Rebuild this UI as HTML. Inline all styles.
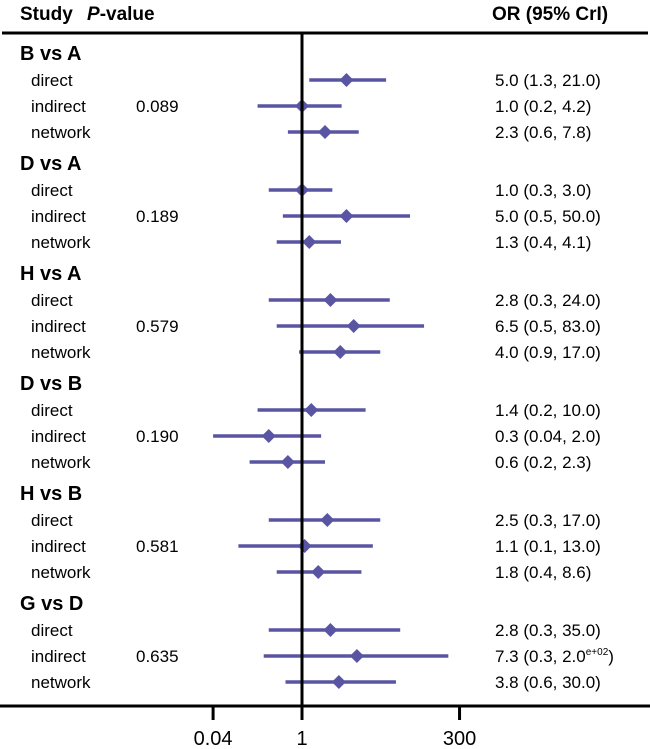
<!DOCTYPE html>
<html><head><meta charset="utf-8"><style>
body{margin:0;background:#fff}
svg{display:block;font-family:"Liberation Sans",Arial,sans-serif}
</style></head><body>
<svg id="chart" width="650" height="749" viewBox="0 0 650 749">
<text x="20" y="20" font-size="19" font-weight="bold">Study</text>
<text x="87" y="20" font-size="19" font-weight="bold"><tspan font-style="italic">P</tspan>-value</text>
<text x="492" y="20" font-size="19" font-weight="bold">OR (95% CrI)</text>
<line x1="2" y1="33" x2="648" y2="33" stroke="#000" stroke-width="3"/>
<g id="rows"></g>
<line x1="0" y1="706" x2="650" y2="706" stroke="#000" stroke-width="3"/>
<g id="ticks"></g>
</svg>
<script>
const groups=["B vs A","D vs A","H vs A","D vs B","H vs B","G vs D"];
const pvalues=["0.089","0.189","0.579","0.190","0.581","0.635"];
const rowTypes=["direct","indirect","network"];
const orVals=[[5.0,1.0,2.3],[1.0,5.0,1.3],[2.8,6.5,4.0],[1.4,0.3,0.6],[2.5,1.1,1.8],[2.8,7.3,3.8]];
const loVals=[[1.3,0.2,0.6],[0.3,0.5,0.4],[0.3,0.4,0.9],[0.2,0.04,0.15],[0.3,0.1,0.4],[0.3,0.25,0.55]];
const hiVals=[[21.0,4.2,7.8],[3.0,50.0,4.1],[24.0,83.0,17.0],[10.0,2.0,2.3],[17.0,13.0,8.6],[35.0,200,30.0]];
const labels=[["5.0 (1.3, 21.0)","1.0 (0.2, 4.2)","2.3 (0.6, 7.8)"],["1.0 (0.3, 3.0)","5.0 (0.5, 50.0)","1.3 (0.4, 4.1)"],["2.8 (0.3, 24.0)","6.5 (0.5, 83.0)","4.0 (0.9, 17.0)"],["1.4 (0.2, 10.0)","0.3 (0.04, 2.0)","0.6 (0.2, 2.3)"],["2.5 (0.3, 17.0)","1.1 (0.1, 13.0)","1.8 (0.4, 8.6)"],["2.8 (0.3, 35.0)","7.3 (0.3, 2.0<sup>","3.8 (0.6, 30.0)"]];
const tickVals=[0.04,1,300];
const tickLabels=["0.04","1","300"];
const NS="http://www.w3.org/2000/svg";
const x=v=>302+63.6*Math.log10(v);
function mk(tag,attrs,parent){const e=document.createElementNS(NS,tag);for(const k in attrs)e.setAttribute(k,attrs[k]);parent.appendChild(e);return e;}
const rows=document.getElementById('rows');
groups.forEach((g,gi)=>{
  const y0=53+gi*110;
  const h=mk('text',{x:20,y:y0+7,'font-size':20,'font-weight':'bold'},rows);h.textContent=g;
  
  
  const p=mk('text',{x:136,y:y0+53+6,'font-size':17},rows);p.textContent=pvalues[gi];
  
  
  rowTypes.forEach((t,ri)=>{
    const y=y0+27+ri*26;
    const l=mk('text',{x:31,y:y+6,'font-size':17},rows);l.textContent=t;
    
    
    const ci=mk('line',{x1:x(loVals[gi][ri]),x2:x(hiVals[gi][ri]),y1:y,y2:y,stroke:'#5a55a3','stroke-width':3.5},rows);
    
    
    const cx=x(orVals[gi][ri]);
    const d=mk('polygon',{points:`${cx-7},${y} ${cx},${y-7} ${cx+7},${y} ${cx},${y+7}`,fill:'#5a55a3'},rows);
    
    
    const tx=mk('text',{x:495,y:y+6,'font-size':17},rows);
    if(labels[gi][ri].includes('<sup>')){tx.textContent=labels[gi][ri].replace('<sup>','');const s=mk('tspan',{'font-size':10,dy:-7},tx);s.textContent='e+02';const c=mk('tspan',{'font-size':17,dy:7},tx);c.textContent=')';}
    else tx.textContent=labels[gi][ri];
    
    
  });
});
const vl=mk('line',{x1:302,x2:302,y1:33,y2:720,stroke:'#000','stroke-width':3},rows);


const tk=document.getElementById('ticks');
tickVals.forEach((v,i)=>{
  const t=mk('line',{x1:x(v),x2:x(v),y1:706,y2:720,stroke:'#000','stroke-width':3},tk);
  
  
  const l=mk('text',{x:x(v),y:745,'font-size':20,'text-anchor':'middle'},tk);l.textContent=tickLabels[i];
  
  
});
</script>
</body></html>
